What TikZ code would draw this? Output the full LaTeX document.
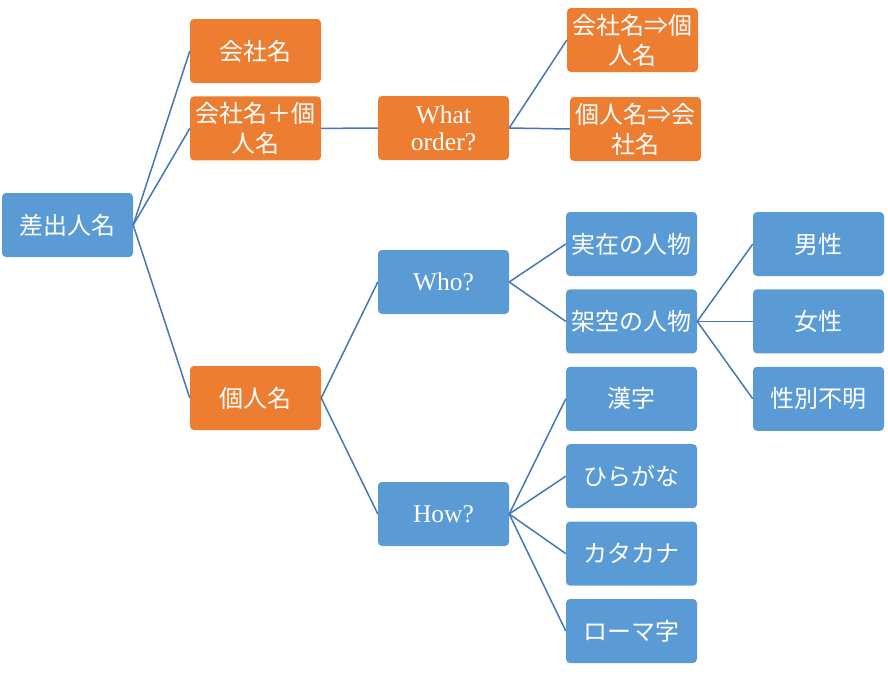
\documentclass[tikz,border=0pt]{standalone}
\usepackage{fontspec}
\setmainfont{Liberation Serif}
\newfontfamily\jpfont{Noto Sans CJK JP}
\usepackage{tikz}
\usetikzlibrary{positioning}
\definecolor{boxorange}{HTML}{ED7D31}
\definecolor{boxblue}{HTML}{5B9BD5}
\definecolor{linkblue}{HTML}{4677B5}

\begin{document}
\begin{tikzpicture}[
  x=1pt, y=-1pt,
  node distance=13pt,
  box/.style={rounded corners=4pt, minimum width=131pt, minimum height=64pt,
    inner sep=1pt, align=center, text=white,
    font=\jpfont\fontsize{24}{30}\selectfont},
  obox/.style={box, fill=boxorange},
  bbox/.style={box, fill=boxblue},
  latin/.style={font=\fontsize{25.5}{27}\selectfont},
  link/.style={draw=linkblue, line width=1.5pt}
]
\useasboundingbox (0,0) rectangle (888,675);
\node[bbox] (sender) at (67.5,225) {差出人名};
\node[obox] (company) at (255.5,51) {会社名};
\node[obox, below=of company] (both) {会社名＋個\\人名};
\node[obox] (person) at (255.5,398) {個人名};
\node[obox, latin] (order) at (443.5,128) {What\\order?};
\node[bbox, latin] (who) at (443.5,282) {Who?};
\node[bbox, latin] (how) at (443.5,514) {How?};
\node[obox] (cfirst) at (632.5,40) {会社名⇒個\\人名};
\node[obox] (pfirst) at (635.5,129) {個人名⇒会\\社名};
\node[bbox] (real) at (631.5,244) {実在の人物};
\node[bbox, below=of real] (fict) {架空の人物};
\node[bbox, below=of fict] (kanji) {漢字};
\node[bbox, below=of kanji] (hira) {ひらがな};
\node[bbox, below=of hira] (kata) {カタカナ};
\node[bbox, below=of kata] (roma) {ローマ字};
\node[bbox] (male) at (818.5,244) {男性};
\node[bbox, below=of male] (female) {女性};
\node[bbox, below=of female] (unknown) {性別不明};
% connectors
\draw[link] (sender.east) -- (company.west);
\draw[link] (sender.east) -- (both.west);
\draw[link] (sender.east) -- (person.west);
\draw[link] (both.east) -- (order.west);
\draw[link] (order.east) -- (cfirst.west);
\draw[link] (order.east) -- (pfirst.west);
\draw[link] (person.east) -- (who.west);
\draw[link] (person.east) -- (how.west);
\draw[link] (who.east) -- (real.west);
\draw[link] (who.east) -- (fict.west);
\draw[link] (fict.east) -- (male.west);
\draw[link] (fict.east) -- (female.west);
\draw[link] (fict.east) -- (unknown.west);
\draw[link] (how.east) -- (kanji.west);
\draw[link] (how.east) -- (hira.west);
\draw[link] (how.east) -- (kata.west);
\draw[link] (how.east) -- (roma.west);
\end{tikzpicture}
\end{document}
